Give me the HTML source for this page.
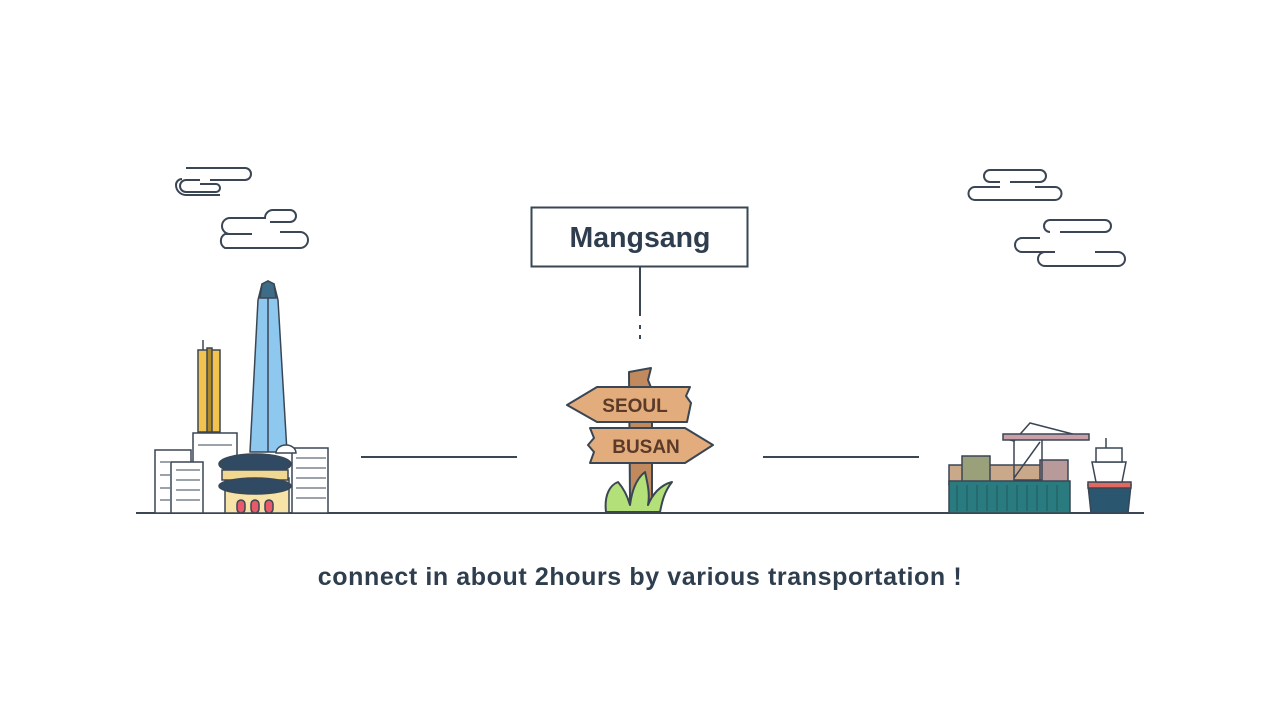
<!DOCTYPE html>
<html><head><meta charset="utf-8"><style>
html,body{margin:0;padding:0;background:#fff;}
svg{display:block}
</style></head><body>
<svg width="1280" height="720" viewBox="0 0 1280 720" xmlns="http://www.w3.org/2000/svg">
<rect width="1280" height="720" fill="#fff"/>
<g fill="#fff" stroke="#3a4654" stroke-width="2">
<path d="M186 168 H245 a6 6 0 0 1 0 12 H210 M200 180 H186 a6 6 0 0 0 0 12 H216 a4 4 0 0 0 0-8 H200" fill="none"/>
<path d="M176 185 a6 6 0 0 1 6-6 M176 185 a10 10 0 0 0 10 10 H220" fill="none"/>
<path d="M230 218 H265 a8 8 0 0 1 8-8 H290 a6 6 0 0 1 0 12 H270 M230 218 a8 8 0 0 0 0 16 H252 M244 234 H225 a8 8 0 0 0 0 14 H300 a8 8 0 0 0 0-16 H280" fill="none"/>
<path d="M990 170 H1040 a6 6 0 0 1 0 12 H1010 M990 170 a6 6 0 0 0 0 12 H1000 M1000 187 H975 a6 6 0 0 0 0 13 H1055 a6 6 0 0 0 0-13 H1035" fill="none"/>
<path d="M1050 220 H1105 a6 6 0 0 1 0 12 H1060 M1050 220 a6 6 0 0 0 0 12 M1040 238 H1022 a7 7 0 0 0 0 14 H1055 M1045 252 a7 7 0 0 0 0 14 H1118 a7 7 0 0 0 0-14 H1095" fill="none"/>
</g>
<line x1="136" y1="513" x2="1144" y2="513" stroke="#3a4654" stroke-width="2"/>
<line x1="361" y1="457" x2="517" y2="457" stroke="#3a4654" stroke-width="2"/>
<line x1="763" y1="457" x2="919" y2="457" stroke="#3a4654" stroke-width="2"/>
<rect x="531.5" y="207.5" width="216" height="59" fill="#fff" stroke="#3a4654" stroke-width="2"/>
<text x="640" y="247" text-anchor="middle" font-family="Liberation Sans, sans-serif" font-weight="bold" font-size="28.5" fill="#2f3e4e">Mangsang</text>
<line x1="640" y1="267" x2="640" y2="316" stroke="#3a4654" stroke-width="2"/>
<line x1="640" y1="325" x2="640" y2="329" stroke="#3a4654" stroke-width="2"/>
<line x1="640" y1="335" x2="640" y2="339" stroke="#3a4654" stroke-width="2"/>
<g stroke="#3a4654" stroke-width="2" stroke-linejoin="round">
<path d="M629 372 L651 368 L648 380 L652 390 L652 500 L630 500 Z" fill="#c08a5e"/>
<path d="M597 387 H690 L686 396 L691 403 L687 422 H597 L567 405 Z" fill="#e3ac7c"/>
<path d="M590 428 H685 L713 445 L685 463 H590 L594 452 L588 445 L594 438 Z" fill="#e3ac7c"/>
<path d="M606 512 C604 495 610 485 618 482 C625 490 628 498 630 505 C632 490 637 478 645 472 C648 485 650 495 648 505 C652 495 660 485 672 482 C664 492 662 502 660 512 Z" fill="#b4e07a"/>
</g>
<text x="635" y="412" text-anchor="middle" font-family="Liberation Sans, sans-serif" font-weight="bold" font-size="19" fill="#5a3a28">SEOUL</text>
<text x="646" y="453" text-anchor="middle" font-family="Liberation Sans, sans-serif" font-weight="bold" font-size="19" fill="#5a3a28">BUSAN</text>
<g stroke="#3a4654" stroke-width="1.5">
<line x1="203" y1="340" x2="203" y2="350"/>
<rect x="198" y="350" width="22" height="82" fill="#f2c44f"/>
<rect x="207" y="348" width="5" height="84" fill="#b08a28"/>
<path d="M262 284 L268 281 L274 284 L278 300 L287 452 L250 452 L258 300 Z" fill="#8ec8ef"/>
<path d="M262 284 L268 281 L274 284 L276 298 L260 298 Z" fill="#3e6b86"/>
<line x1="268" y1="298" x2="268" y2="452"/>
<rect x="193" y="433" width="44" height="80" fill="#fff"/>
<rect x="155" y="450" width="36" height="63" fill="#fff"/>
<rect x="171" y="462" width="32" height="51" fill="#fff"/>
<rect x="292" y="448" width="36" height="65" fill="#fff"/>
<path d="M276 453 a10 8 0 0 1 20 0 Z" fill="#fff"/>
<rect x="225" y="478" width="64" height="35" fill="#f7e3a8"/>
<ellipse cx="255" cy="464" rx="36" ry="10" fill="#2f4a62"/>
<rect x="222" y="470" width="66" height="10" fill="#f0d892"/>
<ellipse cx="255" cy="486" rx="36" ry="8" fill="#2f4a62"/>
<rect x="237" y="500" width="8" height="13" rx="4" fill="#e85a6a"/>
<rect x="251" y="500" width="8" height="13" rx="4" fill="#e85a6a"/>
<rect x="265" y="500" width="8" height="13" rx="4" fill="#e85a6a"/>
</g>
<g stroke="#3a4654" stroke-width="1" fill="none">
<path d="M176 470h24M176 480h24M176 490h24M176 500h24M160 462h10M160 475h10M160 488h10M160 500h10M296 458h30M296 468h30M296 478h30M296 488h30M296 498h30M198 445h34"/>
</g>
<g stroke="#3a4654" stroke-width="1.5">
<rect x="949" y="465" width="110" height="20" fill="#c9a98a"/>
<rect x="962" y="456" width="28" height="29" fill="#9aa07a"/>
<rect x="1040" y="460" width="28" height="25" fill="#b89a9a"/>
<rect x="949" y="481" width="121" height="32" fill="#2a7b7f"/>
<path d="M1014 441 L1030 423 L1088 438 H1003 Z" fill="none"/>
<rect x="1003" y="434" width="86" height="6" fill="#c9a0a8"/>
<path d="M1014 440 V480 H1042 V440 M1014 478 L1040 442" fill="none"/>
<path d="M1088 485 H1131 L1128 513 H1091 Z" fill="#2a5670"/>
<rect x="1088" y="482" width="43" height="6" fill="#e06a62"/>
<path d="M1092 462 H1126 L1122 482 H1096 Z" fill="#fff"/>
<rect x="1096" y="448" width="26" height="14" fill="#fff"/>
<line x1="1106" y1="438" x2="1106" y2="448"/>
</g>
<g stroke="#1e5a5e" stroke-width="1">
<path d="M957 485v26M967 485v26M977 485v26M987 485v26M997 485v26M1007 485v26M1017 485v26M1027 485v26M1037 485v26M1047 485v26M1057 485v26"/>
</g>
<text x="640" y="585" text-anchor="middle" font-family="Liberation Sans, sans-serif" font-weight="bold" font-size="25" letter-spacing="0.6" fill="#2f3e4e">connect in about 2hours by various transportation !</text>
</svg>
</body></html>
